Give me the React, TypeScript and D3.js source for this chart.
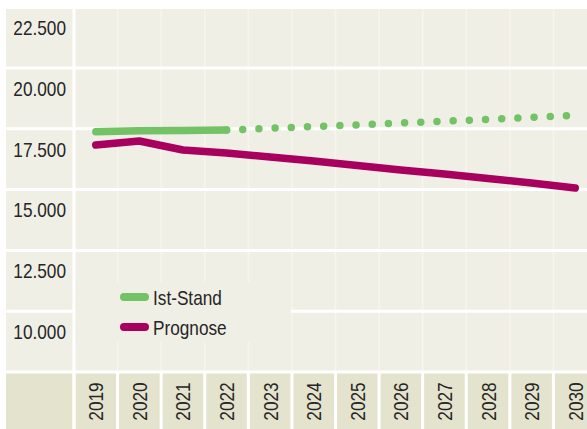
import React from 'react';
import * as d3 from 'd3';

const years = ['2019', '2020', '2021', '2022', '2023', '2024', '2025', '2026', '2027', '2028', '2029', '2030'];
const istYears = ['2019', '2020', '2021', '2022'];
const istValues = [19880, 19920, 19930, 19950];
const istTrendYears = ['2022', '2023', '2024', '2025', '2026', '2027', '2028', '2029', '2030'];
const istTrendValues = [19950, 20020, 20090, 20160, 20240, 20310, 20390, 20470, 20555];
const prognoseValues = [19330, 19500, 19130, 19005, 18840, 18676, 18490, 18306, 18141, 17957, 17771, 17566];
const yTicks = [10000, 12500, 15000, 17500, 20000, 22500];

const bg = '#f0efe5';
const bandBg = '#e4e3cd';
const green = '#73c265';
const purple = '#a8005f';
const ink = '#262626';
const font = '"Liberation Sans", Arial, sans-serif';
const squeeze = 0.82; // narrow the glyphs like the condensed original

const fmt = (v: number) => d3.format(',')(v).replace(',', '.');

export default function App() {
  const width = 587;
  const height = 429;
  const left = 6;
  const top = 9;
  const plotLeft = 74;
  const plotRight = 597;

  const x = d3.scaleBand<string>().domain(years).range([plotLeft, plotRight]).padding(0);
  const y = d3.scaleLinear().domain([10000, 22500]).range([372, 68]);
  const cx = (yr: string) => (x(yr) as number) + x.bandwidth() / 2;

  const line = d3.line<[string, number]>().x(d => cx(d[0])).y(d => y(d[1]));
  const istPath = line(istYears.map((yr, i) => [yr, istValues[i]]));
  const trendPath = line(istTrendYears.map((yr, i) => [yr, istTrendValues[i]]));
  const progPath = line(years.map((yr, i) => [yr, prognoseValues[i]]));

  const base = y(10000);

  return (
    <svg width={width} height={height} style={{ position: 'absolute', left: 0, top: 0 }} fontFamily={font}>
      <rect x={0} y={0} width={width} height={height} fill="#fff" />
      <rect x={left} y={top} width={width - left} height={height - top} fill={bg} />
      {/* x band */}
      <rect x={left} y={base} width={width - left} height={height - base} fill={bandBg} />

      {/* faint vertical column lines in plot */}
      {years.slice(1).map(yr => (
        <line key={'v' + yr} x1={x(yr)} x2={x(yr)} y1={top} y2={base} stroke="#f6f5ee" strokeWidth={1.5} />
      ))}

      {/* horizontal white grid lines */}
      {yTicks.map(t => (
        <line key={'h' + t} x1={left} x2={width} y1={y(t)} y2={y(t)} stroke="#fff" strokeWidth={3} />
      ))}

      {/* vertical separators in band */}
      {years.map(yr => (
        <line key={'b' + yr} x1={x(yr)} x2={x(yr)} y1={base} y2={height} stroke="#fff" strokeWidth={3} />
      ))}
      {/* separator between label column and plot */}
      <line x1={plotLeft} x2={plotLeft} y1={top} y2={height} stroke="#fff" strokeWidth={3} />

      {/* legend background */}
      <rect x={plotLeft + 1.5} y={282} width={291 - plotLeft - 1.5} height={60} fill={bg} />

      {/* y labels */}
      {yTicks.map(t => (
        <text
          key={'t' + t}
          transform={`translate(66,${y(t) - 33}) scale(${squeeze},1)`}
          textAnchor="end"
          fontSize={21}
          fill={ink}
        >
          {fmt(t)}
        </text>
      ))}

      {/* year labels */}
      {years.map(yr => (
        <text
          key={'l' + yr}
          transform={`translate(${cx(yr) + 7.5},${(base + height) / 2 + 1}) rotate(-90) scale(${squeeze},1)`}
          textAnchor="middle"
          fontSize={21}
          fill={ink}
        >
          {yr}
        </text>
      ))}

      {/* lines */}
      <path d={trendPath || ''} fill="none" stroke={green} strokeWidth={7.5} strokeLinecap="round" strokeDasharray="0 16.2" />
      <path d={progPath || ''} fill="none" stroke={purple} strokeWidth={7.5} strokeLinecap="round" strokeLinejoin="round" />
      <path d={istPath || ''} fill="none" stroke={green} strokeWidth={7.5} strokeLinecap="round" strokeLinejoin="round" />

      {/* legend */}
      <line x1={124} x2={145} y1={297} y2={297} stroke={green} strokeWidth={8} strokeLinecap="round" />
      <text transform={`translate(153,305) scale(${squeeze},1)`} fontSize={21} fill={ink}>Ist-Stand</text>
      <line x1={124} x2={145} y1={327} y2={327} stroke={purple} strokeWidth={8} strokeLinecap="round" />
      <text transform={`translate(153,335) scale(${squeeze},1)`} fontSize={21} fill={ink}>Prognose</text>
    </svg>
  );
}
